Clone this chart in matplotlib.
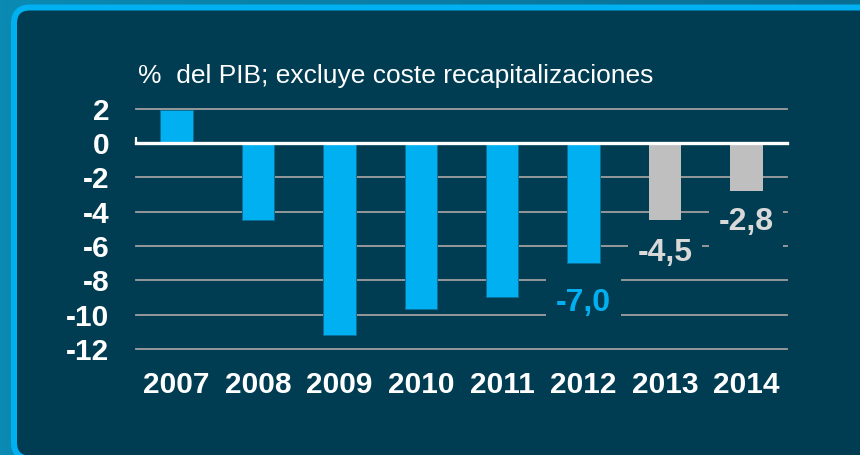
import matplotlib
matplotlib.use("Agg")
import matplotlib.pyplot as plt
from matplotlib.patches import FancyBboxPatch
import numpy as np

plt.rcParams['font.family'] = ['Liberation Sans', 'DejaVu Sans']

years = ['2007', '2008', '2009', '2010', '2011', '2012', '2013', '2014']
values = [1.9, -4.5, -11.2, -9.7, -9.0, -7.0, -4.5, -2.8]
is_forecast = [False, False, False, False, False, False, True, True]
yticks = [2, 0, -2, -4, -6, -8, -10, -12]
ytick_labels = ['2', '0', '-2', '-4', '-6', '-8', '-10', '-12']
title = '%  del PIB; excluye coste recapitalizaciones'
annot_idx = [5, 6, 7]
annot_text = ['-7,0', '-4,5', '-2,8']
annot_y = [-9.35, -6.4, -4.62]

BG = '#003d52'
CYAN = '#00b0f0'
GREY = '#bfbfbf'
GREY_TXT = '#d9d9d9'
GRID = '#a0a0a0'

W, H = 860, 455
fig = plt.figure(figsize=(W / 100, H / 100), dpi=100)
fig.patch.set_facecolor('#0a7ca3')

# outer gradient
gax = fig.add_axes([0, 0, 1, 1], zorder=-10)
grad = np.linspace(0, 1, 256).reshape(1, -1)
gax.imshow(grad, aspect='auto', cmap=matplotlib.colors.LinearSegmentedColormap.from_list('g', ['#0b8ab3', '#0a6e93']),
           extent=[0, 1, 0, 1])
gax.axis('off')

box = FancyBboxPatch((14, -3.5), 960, 451, boxstyle='round,pad=0,rounding_size=16',
                     transform=None, facecolor=BG, edgecolor=CYAN, linewidth=6 * 0.72, zorder=-5)
fig.patches.append(box)

ax = fig.add_axes([136 / W, 106 / H, (787 - 136) / W, (349 - 108.5) / H])
ax.set_facecolor('none')
x = np.arange(len(years))
colors = [GREY if f else CYAN for f in is_forecast]
edges = ['none' if f else '#0b6f98' for f in is_forecast]
ax.bar(x, values, width=0.4, color=colors, edgecolor=edges, linewidth=0.7, zorder=3, clip_on=False)

ax.set_xlim(-0.5, len(years) - 0.5)
ax.set_ylim(-12, 2)
for yv in yticks:
    if yv == 0:
        continue
    ax.axhline(yv, color=GRID, lw=1.3, zorder=1, clip_on=False)
ax.axhline(0, color='white', lw=2.4, zorder=4, clip_on=False)
ax.plot([-0.5, -0.5], [0, 0.35], color='white', lw=1.6, zorder=4, clip_on=False, solid_capstyle='butt')

for s in ax.spines.values():
    s.set_visible(False)
ax.set_yticks(yticks)
ax.set_yticklabels(ytick_labels)
ax.set_xticks(x)
ax.set_xticklabels(years)
ax.tick_params(axis='y', length=0, pad=19, labelsize=21.5, labelcolor='white')
ax.tick_params(axis='x', length=0, pad=16, labelsize=21.5, labelcolor='white')
for lab in ax.get_xticklabels() + ax.get_yticklabels():
    lab.set_fontweight('bold')

for i, t, yv in zip(annot_idx, annot_text, annot_y):
    c = GREY_TXT if is_forecast[i] else CYAN
    ax.text(x[i], yv, t, ha='center', va='center', fontsize=23, fontweight='bold', color=c,
            zorder=5, bbox=dict(boxstyle='square,pad=0.3', facecolor=BG, edgecolor='none'))

fig.text(138 / W, 1 - 76 / H, title, ha='left', va='center', fontsize=19, color='white')

fig.savefig('out.png', dpi=100, facecolor=fig.get_facecolor())
